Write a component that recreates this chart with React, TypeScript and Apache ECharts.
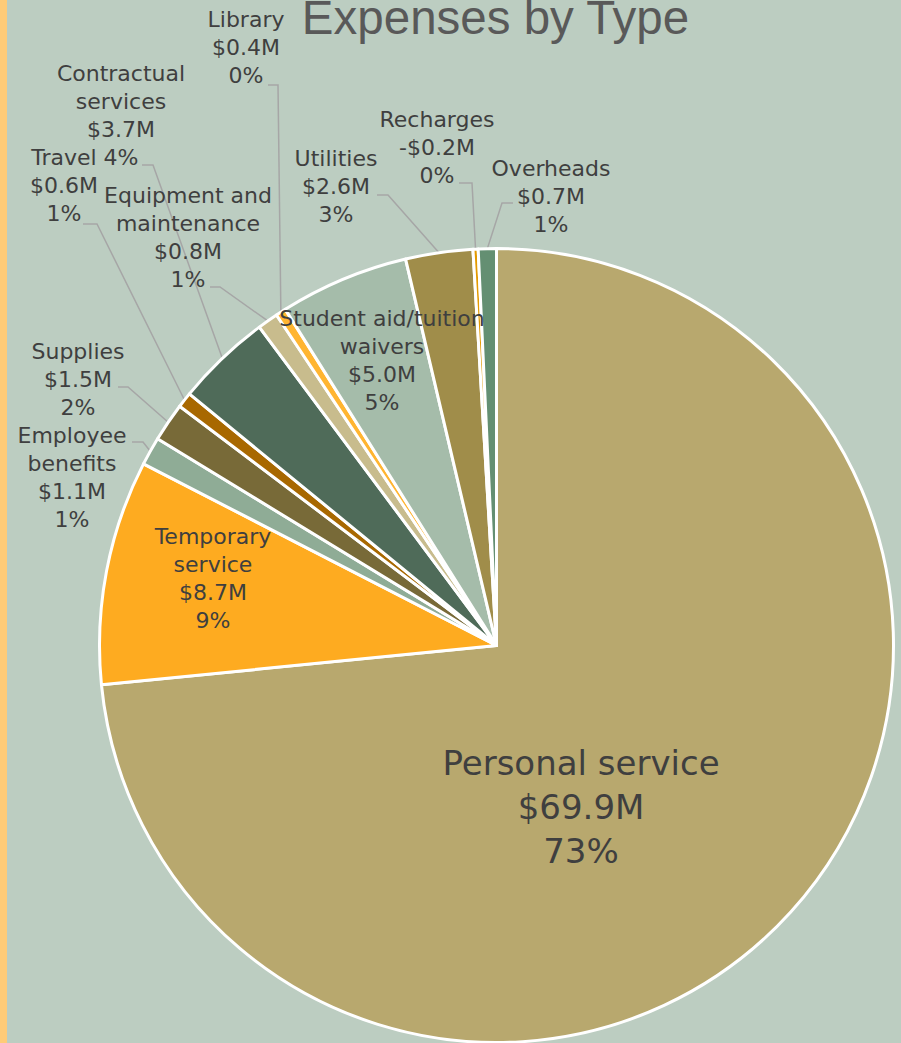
import React, { useEffect, useRef } from "react";
import * as echarts from "echarts";

const chartTitle = "Expenses by Type";
const categories = [
  "Personal service",
  "Temporary service",
  "Employee benefits",
  "Supplies",
  "Travel",
  "Contractual services",
  "Equipment and maintenance",
  "Library",
  "Student aid/tuition waivers",
  "Utilities",
  "Recharges",
  "Overheads",
];
// $ millions
const amounts = [69.9, 8.7, 1.1, 1.5, 0.6, 3.7, 0.8, 0.4, 5.0, 2.6, -0.2, 0.7];

const sliceColors = [
  "#B8A86E",
  "#FEAB20",
  "#8FAC96",
  "#786A38",
  "#A86800",
  "#4F6B59",
  "#C8BC8D",
  "#FFB531",
  "#A5BCAA",
  "#A08D4A",
  "#E39A00",
  "#648F72",
];

const wrappedNames: Record<string, string> = {
  "Temporary service": "Temporary\nservice",
  "Employee benefits": "Employee\nbenefits",
  "Contractual services": "Contractual\nservices",
  "Equipment and maintenance": "Equipment and\nmaintenance",
  "Student aid/tuition waivers": "Student aid/tuition\nwaivers",
};
const insideLabels = ["Personal service", "Temporary service", "Student aid/tuition waivers"];

// label placement (page pixels): centre x, top y, leader bend x, leader y, leader end x
const labelPlacement: number[][] = [
  [581, 741],
  [213, 522],
  [72, 421, 143, 442, 132],
  [78, 337, 128, 387, 118],
  [64, 143, 97, 224, 83],
  [121, 59, 153, 165, 142],
  [188, 181, 220, 287, 210],
  [246, 5, 278, 85, 268],
  [382, 304],
  [336, 144, 388, 195, 377],
  [437, 105, 472, 183, 459],
  [551, 154, 502, 203, 513],
];

const CX = 496.5;
const CY = 645.5;
const R = 397;

function fmtMoney(v: number) {
  return (v < 0 ? "-$" : "$") + Math.abs(v).toFixed(1) + "M";
}

export default function App() {
  const ref = useRef<HTMLDivElement>(null);
  useEffect(() => {
    if (!ref.current) return;
    const chart = echarts.init(ref.current, null, { renderer: "svg" });
    const total = amounts.reduce((s, v) => s + Math.abs(v), 0);
    const cum: number[] = [];
    let acc = 0;
    amounts.forEach((v) => {
      cum.push(acc + Math.abs(v) / 2);
      acc += Math.abs(v);
    });

    const data = categories.map((name, i) => {
      const inside = insideLabels.includes(name);
      const big = i === 0;
      return {
        name,
        value: Math.abs(amounts[i]),
        itemStyle: { color: sliceColors[i] },
        label: inside
          ? {
              position: "inside",
              fontSize: big ? 34 : 22,
              lineHeight: big ? 44 : 28,
            }
          : {},
        labelLine: { show: !inside },
      };
    });

    chart.setOption({
      animation: false,
      backgroundColor: "#BCCDC1",
      graphic: [
        {
          type: "rect",
          shape: { x: 0, y: 0, width: 7, height: 1043 },
          style: { fill: "#FFCB77" },
          silent: true,
        },
        {
          type: "text",
          x: 495.5,
          y: 17,
          style: {
            text: chartTitle,
            fill: "#595959",
            font: "47.5px 'Liberation Sans'",
            textAlign: "center",
            textVerticalAlign: "middle",
            verticalAlign: "middle",
          },
          silent: true,
        },
      ],
      series: [
        {
          type: "pie",
          center: [CX, CY],
          radius: R,
          startAngle: 90,
          clockwise: true,
          avoidLabelOverlap: false,
          minShowLabelAngle: 0,
          itemStyle: { borderColor: "#FFFFFF", borderWidth: 3 },
          label: {
            show: true,
            position: "outside",
            color: "#3F3F3F",
            fontFamily: "DejaVu Sans",
            fontSize: 22,
            lineHeight: 28,
            align: "center",
            formatter: (p: any) => {
              const i = p.dataIndex;
              const nm = wrappedNames[p.name] ?? p.name;
              const pct = Math.round((Math.abs(amounts[i]) / total) * 100);
              return `${nm}\n${fmtMoney(amounts[i])}\n${pct}%`;
            },
          },
          labelLine: {
            show: true,
            lineStyle: { color: "#A6A6A6", width: 1.5 },
          },
          labelLayout: (p: any) => {
            const pl = labelPlacement[p.dataIndex];
            const out: any = {
              x: pl[0],
              y: pl[1],
              align: "center",
              verticalAlign: "top",
            };
            if (pl.length > 2) {
              const a = (cum[p.dataIndex] / total) * Math.PI * 2;
              const start =
                p.labelLinePoints && p.labelLinePoints[0]
                  ? p.labelLinePoints[0]
                  : [CX + R * Math.sin(a), CY - R * Math.cos(a)];
              out.labelLinePoints = [start, [pl[2], pl[3]], [pl[4], pl[3]]];
            }
            return out;
          },
          emphasis: { disabled: true },
          data,
        },
      ],
    });
    return () => chart.dispose();
  }, []);
  return (
    <div
      ref={ref}
      style={{ position: "absolute", left: 0, top: 0, width: 901, height: 1043 }}
    />
  );
}
